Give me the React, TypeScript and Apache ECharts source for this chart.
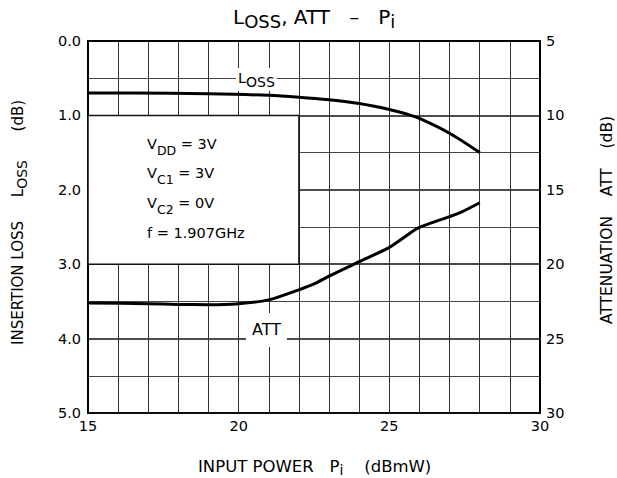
import React, { useEffect, useRef } from "react";
import * as echarts from "echarts";

const lossX = [15, 16.5, 19, 21, 22, 23, 24, 25, 25.6, 26, 27, 28];
const lossY = [0.7, 0.7, 0.71, 0.73, 0.755, 0.79, 0.84, 0.92, 0.985, 1.04, 1.24, 1.5];
const attX = [15, 17, 18, 19, 20, 21, 22, 22.5, 23, 24, 25, 25.8, 26, 27, 27.35, 28];
const attY = [22.6, 22.65, 22.7, 22.72, 22.65, 22.4, 21.72, 21.33, 20.8, 19.83, 18.87, 17.75, 17.52, 16.8, 16.54, 15.87];
const xTickLabels = [15, 20, 25, 30];
const conditions = [
  ["V", "DD", " = 3V"],
  ["V", "C1", " = 3V"],
  ["V", "C2", " = 0V"],
  ["f = 1.907GHz", "", ""],
];

const FONT = "'DejaVu Sans', sans-serif";

const rich = (n: number, s: number, pad: number) => ({
  n: { fontSize: n, verticalAlign: "top", fontFamily: FONT, color: "#000" },
  s: { fontSize: s, verticalAlign: "top", fontFamily: FONT, color: "#000", padding: [pad, 0, 0, 0] },
});

export default function App() {
  const ref = useRef<HTMLDivElement>(null);
  useEffect(() => {
    const chart = echarts.init(ref.current!, undefined, { renderer: "svg" });
    const boxTexts = conditions.map((c, i) => ({
      type: "text",
      x: 147,
      y: 136 + i * 29.8,
      z: 10,
      style: {
        text: c[1] ? `{n|${c[0]}}{s|${c[1]}}{n|${c[2]}}` : `{n|${c[0]}}`,
        rich: rich(14.5, 12.5, 7.5),
        align: "left",
        verticalAlign: "top",
      },
    }));
    chart.setOption({
      animation: false,
      backgroundColor: "#fff",
      grid: {
        left: 88,
        right: 77,
        top: 41,
        bottom: 65,
        show: true,
        borderColor: "#000",
        borderWidth: 2,
        backgroundColor: "transparent",
      },
      xAxis: {
        type: "value",
        min: 15,
        max: 30,
        interval: 1,
        axisLine: { lineStyle: { color: "#000", width: 2 } },
        axisTick: { show: false },
        axisLabel: {
          margin: 5,
          fontSize: 14.5,
          fontFamily: FONT,
          color: "#000",
          formatter: (v: number) => (xTickLabels.includes(v) ? String(v) : ""),
        },
        splitLine: { show: true, lineStyle: { color: "#333", width: 1 } },
      },
      yAxis: [
        {
          type: "value",
          min: 0,
          max: 5,
          interval: 1,
          inverse: true,
          axisLine: { show: true, lineStyle: { color: "#000", width: 2 } },
          axisTick: { show: false },
          axisLabel: {
            margin: 7,
            fontSize: 14.5,
            fontFamily: FONT,
            color: "#000",
            formatter: (v: number) => v.toFixed(1),
          },
          splitLine: { show: true, lineStyle: { color: "#111", width: 1.5 } },
          minorTick: { show: false, splitNumber: 2 },
          minorSplitLine: { show: true, lineStyle: { color: "#444", width: 1 } },
        },
        {
          type: "value",
          min: 5,
          max: 30,
          interval: 5,
          inverse: true,
          position: "right",
          axisLine: { show: true, lineStyle: { color: "#000", width: 2 } },
          axisTick: { show: false },
          axisLabel: { margin: 6, fontSize: 14.5, fontFamily: FONT, color: "#000" },
          splitLine: { show: false },
        },
      ],
      series: [
        {
          type: "line",
          yAxisIndex: 0,
          data: lossX.map((x, i) => [x, lossY[i]]),
          smooth: 0.3,
          symbol: "none",
          lineStyle: { color: "#000", width: 3 },
          markArea: {
            silent: true,
            itemStyle: { color: "#fff", borderColor: "#111", borderWidth: 1.5 },
            data: [[{ xAxis: 15, yAxis: 1.0 }, { xAxis: 22, yAxis: 3.0 }]],
          },
        },
        {
          type: "line",
          yAxisIndex: 1,
          data: attX.map((x, i) => [x, attY[i]]),
          smooth: 0.25,
          symbol: "none",
          lineStyle: { color: "#000", width: 3 },
        },
      ],
      graphic: [
        {
          type: "text",
          x: 233,
          y: 7,
          style: {
            text: "{n|L}{s|OSS}{n|, ATT   –   P}{s|i}",
            rich: rich(20, 18, 5.8),
            align: "left",
            verticalAlign: "top",
          },
        },
        {
          type: "text",
          x: 236,
          y: 68,
          z: 10,
          style: {
            text: "{n|L}{s|OSS}",
            rich: rich(14.5, 14, 5),
            align: "left",
            verticalAlign: "top",
            backgroundColor: "#fff",
            padding: [2, 2, 2, 2],
          },
        },
        {
          type: "text",
          x: 246,
          y: 313,
          z: 10,
          style: {
            text: "{n|ATT}",
            rich: rich(16, 14, 4),
            align: "left",
            verticalAlign: "top",
            backgroundColor: "#fff",
            padding: [8, 6, 10, 6],
          },
        },
        ...boxTexts,
        {
          type: "text",
          x: 10,
          y: 345,
          rotation: Math.PI / 2,
          style: {
            text: "{n|INSERTION LOSS     L}{s|OSS}{n|      (dB)}",
            rich: rich(15, 14, 5),
            align: "left",
            verticalAlign: "top",
          },
        },
        {
          type: "text",
          x: 599,
          y: 324,
          rotation: Math.PI / 2,
          style: {
            text: "{n|ATTENUATION    ATT    (dB)}",
            rich: rich(15.5, 14, 4),
            align: "left",
            verticalAlign: "top",
          },
        },
        {
          type: "text",
          x: 198,
          y: 458,
          style: {
            text: "{n|INPUT POWER   P}{s|i}{n|    (dBmW)}",
            rich: rich(16.5, 14, 5),
            align: "left",
            verticalAlign: "top",
          },
        },
      ],
    });
    return () => chart.dispose();
  }, []);
  return (
    <div
      ref={ref}
      style={{ position: "absolute", left: 0, top: 0, width: 617, height: 478 }}
    />
  );
}
